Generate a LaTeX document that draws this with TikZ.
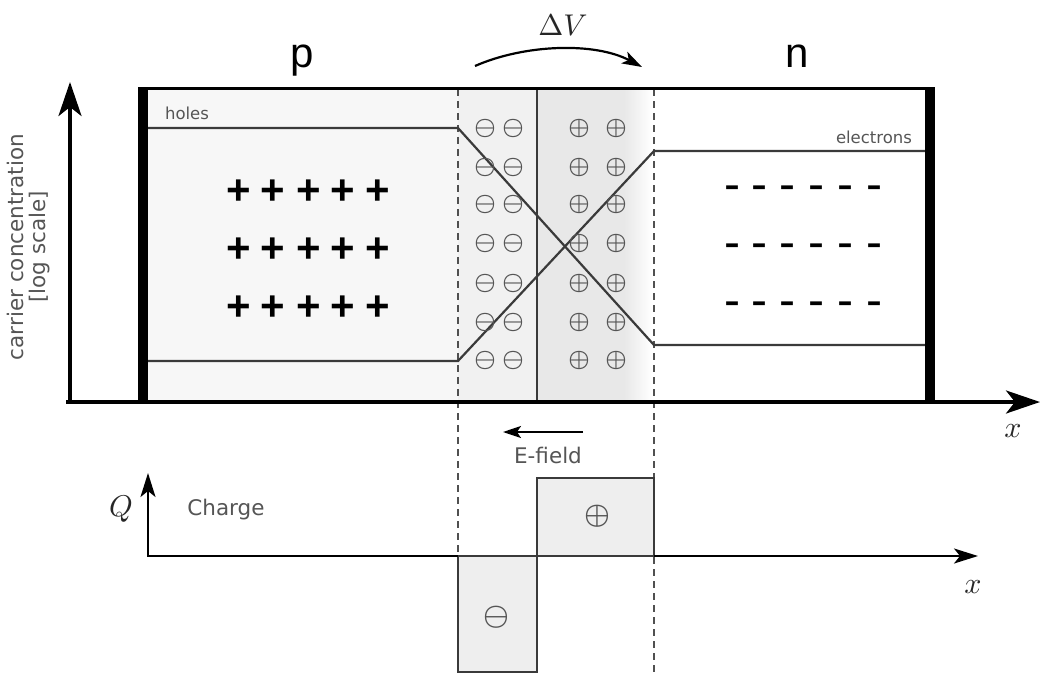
\documentclass[tikz,border=0pt]{standalone}
\usepackage{fontspec}
\setsansfont{DejaVu Sans}
\newfontfamily\arialfont{Liberation Sans}
\usetikzlibrary{arrows.meta}
\definecolor{linegray}{HTML}{3A3A3A}
\definecolor{labelgray}{HTML}{555555}
\definecolor{dashgray}{HTML}{505050}
\definecolor{pfill}{HTML}{F7F7F7}
\definecolor{dleft}{HTML}{F1F1F1}
\definecolor{dright}{HTML}{E8E8E8}
\definecolor{qfill}{HTML}{EEEEEE}
\newcommand\lblfont{\sffamily\fontsize{21.5}{22}\selectfont}
\newcommand\smallfont{\sffamily\fontsize{16.5}{20}\selectfont}
\newcommand\regfont{\arialfont\fontsize{42}{50}\selectfont}
\newcommand\plusfont{\arialfont\bfseries\fontsize{42}{50}\selectfont}
\newcommand\minusfont{\arialfont\fontsize{48}{56}\selectfont}
\begin{document}
\begin{tikzpicture}[x=1pt,y=-1pt,
  lbl/.style={font=\lblfont, text=labelgray, inner sep=0pt},
  smalllbl/.style={font=\smallfont, text=labelgray, inner sep=0pt},
  mathlbl/.style={scale=3, text=black!85, inner sep=0pt},
  carrier/.style={draw=linegray, line width=2.2pt, line join=miter},
  dashline/.style={draw=dashgray, line width=1.3pt, dash pattern=on 7pt off 5pt},
  negsym/.style={scale=2.4, text=labelgray, inner sep=0pt, font=\boldmath},
  possym/.style={scale=2.4, text=labelgray, inner sep=0pt, font=\boldmath},
  bigsym/.style={scale=2.9, text=labelgray, inner sep=0pt, font=\boldmath},
  plussym/.style={font=\plusfont, text=black, inner sep=0pt},
  minussym/.style={font=\minusfont, text=black, inner sep=0pt},
  bigaxis/.style={line width=3.5pt, -{Stealth[length=34pt,width=23pt,inset=9pt]}},
  smallaxis/.style={line width=2.2pt, -{Stealth[length=24pt,width=15pt,inset=6pt]}},
  qbox/.style={draw=linegray, line width=2.2pt, fill=qfill}
]
\useasboundingbox (0,0) rectangle (1044,675);

% ---------- fills of the junction ----------
\fill[pfill] (148,90) rectangle (458,400);
\fill[dleft] (458,90) rectangle (537,400);
\fill[dright] (537,90) rectangle (624,400);
\shade[left color=dright,right color=white] (624,90) rectangle (652,400);

% ---------- key coordinates ----------
\coordinate (origin) at (70,402);
\coordinate (ytip) at (70,82);
\coordinate (xtip) at (1040,402);
\coordinate (xstart) at (66,402);
\coordinate (junctop) at (537,89);
\coordinate (juncbot) at (537,401);
\coordinate (dlt) at (458,89);
\coordinate (dlb) at (458,556);
\coordinate (drt) at (654,89);
\coordinate (drb) at (654,675);

% holes / electrons curves
\coordinate (h1) at (148,128);
\coordinate (h2) at (458,128);
\coordinate (h3) at (654,345);
\coordinate (h4) at (926,345);
\coordinate (e1) at (148,361);
\coordinate (e2) at (458,361);
\coordinate (e3) at (654,151);
\coordinate (e4) at (926,151);

% dashed boundaries of depletion region
\draw[dashline] (dlt) -- (dlb);
\draw[dashline] (drt) -- (drb);

\draw[carrier] (h1) -- (h2) -- (h3) -- (h4);
\draw[carrier] (e1) -- (e2) -- (e3) -- (e4);
\draw[draw=linegray, line width=2.2pt] (junctop) -- (juncbot);

% box
\coordinate (tl) at (138,88);
\coordinate (tr) at (935,88);
\draw[line width=3pt] (tl) -- (tr);
\coordinate (lbt) at (143,87);
\coordinate (lbb) at (143,402);
\coordinate (rbt) at (930,87);
\coordinate (rbb) at (930,402);
\draw[line width=10pt] (lbt) -- (lbb);
\draw[line width=10pt] (rbt) -- (rbb);

% axes
\draw[bigaxis] (origin) -- (ytip);
\draw[bigaxis] (xstart) -- (xtip);

% labels
\node[smalllbl] (holes) at (187,113) {holes};
\node[smalllbl] (electrons) at (874,137) {electrons};
\node[font=\regfont, anchor=base, inner sep=0pt] (p) at (302,67) {p};
\node[font=\regfont, anchor=base, inner sep=0pt] (n) at (797,67) {n};
\node[mathlbl] (dV) at (563,25) {$\Delta V$};
\node[mathlbl] (x1) at (1013,431) {$x$};
\node[lbl, rotate=90, align=center] (ylabel) at (29,247) {carrier concentration\\{[log scale]}};

% Delta V arc
\coordinate (arcs) at (475,66);
\coordinate (arce) at (642,67);
\draw[line width=2.2pt, -{Stealth[length=20pt,width=13pt,inset=5pt]}] (arcs) .. controls (525,44) and (595,42) .. (arce);

% ionised acceptors / donors
\foreach \y [count=\i] in {128,167,204,243,283,322,360}{
  \node[negsym] (ma\i) at (485,\y) {$\ominus$};
  \node[negsym] (mb\i) at (513,\y) {$\ominus$};
  \node[possym] (pa\i) at (579,\y) {$\oplus$};
  \node[possym] (pb\i) at (616,\y) {$\oplus$};
}

% majority carriers
\foreach \y [count=\j] in {192,250,308}{
  \foreach \x [count=\i] in {239,273,309,343,378}{
    \node[plussym] (plus\j\i) at (\x,\y) {+};
  }
  \foreach \x [count=\i] in {732,759,787,816,845,874}{
    \node[minussym] (minus\j\i) at (\x,\y+1) {-};
  }
}

% E-field
\coordinate (ef1) at (583,432);
\coordinate (ef2) at (503,432);
\draw[line width=2pt, -{Stealth[length=18pt,width=12pt,inset=4pt]}] (ef1) -- (ef2);
\node[lbl] (efield) at (548,455) {E-field};

% ---------- charge plot ----------
\draw[qbox] (458,556) rectangle (537,672);
\draw[qbox] (537,478) rectangle (654,556);
\node[bigsym] (qneg) at (496,617) {$\ominus$};
\node[bigsym] (qpos) at (597,516) {$\oplus$};

\coordinate (qo) at (148,556);
\coordinate (qtip) at (148,473);
\coordinate (qx1) at (458,556);
\coordinate (qx2) at (654,556);
\coordinate (qxtip) at (978,556);
\draw[line width=2.2pt, line cap=rect] (qx1) -- (qo);
\draw[smallaxis] (qo) -- (qtip);
\draw[smallaxis] (qx2) -- (qxtip);
\draw[line width=2.5pt, draw=linegray, dash pattern=on 12pt off 8pt] (qx1) -- (qx2);

\node[mathlbl] (Q) at (121,509) {$Q$};
\node[lbl] (charge) at (226,510) {Charge};
\node[mathlbl] (x2) at (973,587) {$x$};
\end{tikzpicture}
\end{document}
